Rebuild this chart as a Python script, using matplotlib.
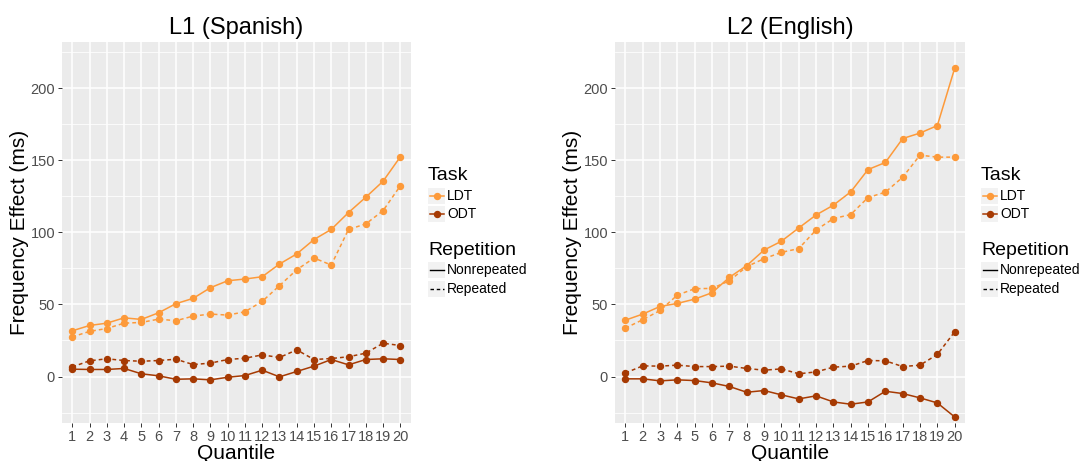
import matplotlib.pyplot as plt
from matplotlib.lines import Line2D
from matplotlib.patches import Rectangle

plt.rcParams['font.family'] = ['Liberation Sans', 'DejaVu Sans']

quantiles = list(range(1, 21))

# L1 (Spanish)
l1_ldt_nonrep = [31.7, 35.4, 37.0, 40.7, 39.6, 44.2, 50.5, 54.2, 61.6, 66.4,
                 67.6, 69.2, 78.0, 85.0, 95.0, 102.0, 113.7, 124.3, 135.4, 152.3]
l1_ldt_rep = [27.5, 31.3, 33.3, 37.0, 37.5, 39.8, 38.7, 41.9, 43.3, 42.6,
              44.9, 52.1, 63.0, 74.0, 82.2, 77.3, 102.0, 105.8, 115.0, 132.2]
l1_odt_nonrep = [5.1, 4.9, 4.9, 5.6, 1.9, 0.5, -1.9, -1.6, -2.3, -0.5,
                 0.7, 4.4, -0.2, 3.5, 7.2, 11.8, 8.1, 11.8, 12.3, 11.8]
l1_odt_rep = [6.7, 10.9, 12.3, 11.1, 10.6, 11.1, 12.0, 8.3, 9.3, 11.8,
              12.7, 15.0, 13.2, 18.5, 11.8, 12.5, 13.7, 16.2, 23.1, 21.5]

# L2 (English)
l2_ldt_nonrep = [39.1, 43.3, 48.6, 50.7, 53.7, 58.1, 68.8, 76.9, 87.7, 93.8,
                 103.0, 112.0, 118.8, 128.0, 143.5, 148.4, 165.0, 168.8, 174.0, 213.7]
l2_ldt_rep = [33.6, 39.4, 45.8, 56.5, 60.9, 61.1, 66.4, 76.2, 81.7, 86.1,
              88.7, 101.6, 109.5, 112.3, 124.1, 127.8, 138.2, 153.5, 152.1, 152.1]
l2_odt_nonrep = [-1.6, -1.6, -3.0, -2.3, -2.8, -4.4, -6.9, -10.9, -9.7, -12.7,
                 -15.5, -13.4, -17.6, -19.2, -17.6, -10.2, -11.8, -14.8, -18.3, -28.0]
l2_odt_rep = [2.5, 7.4, 7.2, 7.9, 6.9, 6.9, 7.2, 5.6, 4.4, 5.3,
              1.9, 3.2, 6.5, 7.2, 11.1, 10.9, 6.9, 7.9, 15.3, 31.0]

LDT_COLOR = '#fd9a3a'
ODT_COLOR = '#a63a03'
DASH = (0, (2.5, 2))

fig = plt.figure(figsize=(10.83, 4.61), dpi=100)

ax_l1 = fig.add_axes([0.0572, 0.0831, 0.322, 0.826])
ax_l2 = fig.add_axes([0.5679, 0.0831, 0.3232, 0.826])


def draw_panel(ax, title, ldt_nonrep, ldt_rep, odt_nonrep, odt_rep):
    ax.set_facecolor('#ebebeb')
    for s in ax.spines.values():
        s.set_visible(False)
    series = [
        (ldt_nonrep, LDT_COLOR, '-'),
        (ldt_rep, LDT_COLOR, DASH),
        (odt_nonrep, ODT_COLOR, '-'),
        (odt_rep, ODT_COLOR, DASH),
    ]
    for vals, col, ls in series:
        ax.plot(quantiles, vals, color=col, linestyle=ls, linewidth=1.1,
                marker='o', markersize=4.3, zorder=3)
    ax.set_xlim(0.4, 20.6)
    ax.set_ylim(-32, 232)
    ax.set_xticks(quantiles)
    ax.set_yticks([0, 50, 100, 150, 200])
    ax.set_yticks([-25, 25, 75, 125, 175, 225], minor=True)
    ax.grid(which='major', color='white', linewidth=1.1, zorder=0)
    ax.grid(which='minor', axis='y', color='white', linewidth=0.55, zorder=0)
    ax.set_axisbelow(True)
    ax.tick_params(which='major', length=3, width=0.7, color='#333333',
                   labelsize=10.5, labelcolor='#4d4d4d', pad=2)
    ax.tick_params(which='minor', length=0)
    ax.set_title(title, fontsize=17, pad=6)
    ax.set_xlabel('Quantile', fontsize=15, labelpad=0)
    ax.set_ylabel('Frequency Effect (ms)', fontsize=15, labelpad=1)


def draw_legend(x0):
    # x0 is the left edge of the legend in figure pixels
    W, H = 1083.0, 461.0

    def fx(px):
        return px / W

    def fy(py):
        return 1 - py / H

    fig.text(fx(x0), fy(175), 'Task', fontsize=14, va='center', ha='left')
    for yy, col, lab in [(196, LDT_COLOR, 'LDT'), (214, ODT_COLOR, 'ODT')]:
        fig.add_artist(Rectangle((fx(x0), fy(yy + 8)), 17 / W, 16 / H,
                                 transform=fig.transFigure, facecolor='#f2f2f2',
                                 edgecolor='none'))
        fig.add_artist(Line2D([fx(x0 + 1.5), fx(x0 + 15.5)], [fy(yy), fy(yy)],
                              transform=fig.transFigure, color=col, linewidth=1.1))
        fig.add_artist(Line2D([fx(x0 + 8.5)], [fy(yy)], transform=fig.transFigure,
                              color=col, marker='o', markersize=4.3, linestyle='none'))
        fig.text(fx(x0 + 19), fy(yy), lab, fontsize=10, va='center', ha='left')

    fig.text(fx(x0), fy(250), 'Repetition', fontsize=14, va='center', ha='left')
    for yy, ls, lab in [(270, '-', 'Nonrepeated'), (289, DASH, 'Repeated')]:
        fig.add_artist(Rectangle((fx(x0), fy(yy + 8)), 17 / W, 16 / H,
                                 transform=fig.transFigure, facecolor='#f2f2f2',
                                 edgecolor='none'))
        fig.add_artist(Line2D([fx(x0 + 1.5), fx(x0 + 15.5)], [fy(yy), fy(yy)],
                              transform=fig.transFigure, color='black',
                              linewidth=1.0, linestyle=ls))
        fig.text(fx(x0 + 19), fy(yy), lab, fontsize=10, va='center', ha='left')


draw_panel(ax_l1, 'L1 (Spanish)', l1_ldt_nonrep, l1_ldt_rep, l1_odt_nonrep, l1_odt_rep)
draw_panel(ax_l2, 'L2 (English)', l2_ldt_nonrep, l2_ldt_rep, l2_odt_nonrep, l2_odt_rep)
draw_legend(428)
draw_legend(981)

fig.savefig('out.png', dpi=100)
